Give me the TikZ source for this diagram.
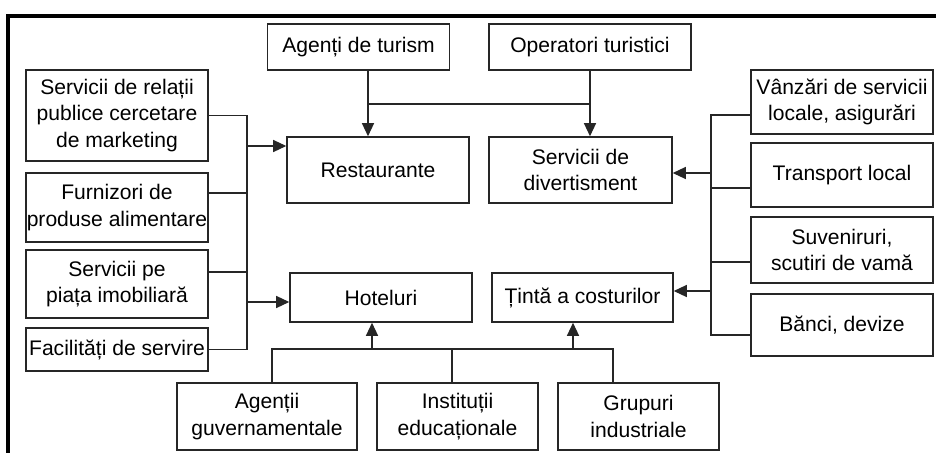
\documentclass[tikz,border=0pt]{standalone}
\usepackage{fontspec}
\setmainfont{Liberation Sans}
\usetikzlibrary{arrows.meta}

\begin{document}
\begin{tikzpicture}
[x=0.02cm,y=-0.02cm,
box/.style={shape=rectangle,draw=black!85,line width=0.9pt,inner sep=0pt,align=center,
  minimum width=3.64cm,font=\fontsize{12}{15}\selectfont},
link/.style={line width=0.7pt,draw=black!85},
flow/.style={link,-{Triangle[length=0.26cm,width=0.24cm]}},
rim/.style={line width=1.8pt}]
\useasboundingbox (0,0) rectangle (936,453);
\draw[rim] (936,16) -- (8,16) -- (8,453);
%% top row
\node (agt) [box,minimum height=0.92cm] at (358.5,47) {Agenți de turism};
\node (opt) [box,minimum height=0.92cm,minimum width=4.04cm] at (590,47) {Operatori turistici};
%% left column
\node (srp) [box,minimum height=1.82cm] at (117,115.5) {Servicii de relații\\publice cercetare\\de marketing};
\node (fur) [box,minimum height=1.38cm] at (117,207.5) {Furnizori de\\produse alimentare};
\node (imo) [box,minimum height=1.36cm] at (117,284) {Servicii pe\\piața imobiliară};
\node (fac) [box,minimum height=0.86cm] at (117,349.5) {Facilități de servire};
%% centre
\node (res) [box,minimum height=1.32cm] at (378,170) {Restaurante};
\node (div) [box,minimum height=1.32cm,minimum width=3.66cm] at (580.5,170) {Servicii de\\divertisment};
\node (hot) [box,minimum height=0.98cm] at (381,297.5) {Hoteluri};
\node (tin) [box,minimum height=0.98cm,minimum width=3.62cm] at (582.5,297.5) {Țintă a costurilor};
%% right column
\node (van) [box,minimum height=1.28cm] at (842,102) {Vânzări de servicii\\locale, asigurări};
\node (tra) [box,minimum height=1.28cm] at (842,175) {Transport local};
\node (suv) [box,minimum height=1.32cm] at (842,250) {Suveniruri,\\scutiri de vamă};
\node (ban) [box,minimum height=1.24cm] at (842,325) {Bănci, devize};
%% bottom row
\node (gov) [box,minimum height=1.34cm,minimum width=3.6cm] at (267,416.5) {Agenții\\guvernamentale};
\node (edu) [box,minimum height=1.34cm,minimum width=3.22cm] at (457.5,416.5) {Instituții\\educaționale};
\node (ind) [box,minimum height=1.34cm,minimum width=3.22cm] at (638.5,416.5) {Grupuri\\industriale};
%% buses
\coordinate (lbus) at (247,0);
\coordinate (rbus) at (711,0);
\coordinate (tbus) at (0,104);
\coordinate (bbus) at (0,349);
%% left feeders
\draw[link] (srp.east) -- (srp.east -| lbus) -- (fac.east -| lbus) -- (fac.east);
\draw[link] ([yshift=0.29cm]fur.east) -- ([yshift=0.29cm]fur.east -| lbus);
\draw[link] ([yshift=0.24cm]imo.east) -- ([yshift=0.24cm]imo.east -| lbus);
\draw[flow] ([yshift=0.48cm]res.west -| lbus) -- ([yshift=0.48cm]res.west);
\draw[flow] ([yshift=-0.09cm]hot.west -| lbus) -- ([yshift=-0.09cm]hot.west);
%% right feeders
\draw[link] ([yshift=-0.26cm]van.west) -- ([yshift=-0.26cm]van.west -| rbus)
  -- ([yshift=-0.2cm]ban.west -| rbus) -- ([yshift=-0.2cm]ban.west);
\draw[link] ([yshift=-0.26cm]tra.west) -- ([yshift=-0.26cm]tra.west -| rbus);
\draw[link] ([yshift=-0.24cm]suv.west) -- ([yshift=-0.24cm]suv.west -| rbus);
\draw[flow] ([yshift=-0.06cm]div.east -| rbus) -- ([yshift=-0.06cm]div.east);
\draw[flow] ([yshift=0.13cm]tin.east -| rbus) -- ([yshift=0.13cm]tin.east);
%% top feeders
\draw[flow] ([xshift=0.19cm]agt.south) -- ([xshift=0.19cm]agt.south |- res.north);
\draw[flow] (opt.south) -- (opt.south |- div.north);
\draw[link] ([xshift=0.19cm]agt.south |- tbus) -- (opt.south |- tbus);
%% bottom feeders
\draw[link] ([xshift=0.1cm]gov.north) -- ([xshift=0.1cm]gov.north |- bbus)
  -- ([xshift=-0.51cm]ind.north |- bbus) -- ([xshift=-0.51cm]ind.north);
\draw[link] ([xshift=-0.11cm]edu.north) -- ([xshift=-0.11cm]edu.north |- bbus);
\draw[flow] ([xshift=-0.18cm]hot.south |- bbus) -- ([xshift=-0.18cm]hot.south);
\draw[flow] ([xshift=-0.19cm]tin.south |- bbus) -- ([xshift=-0.19cm]tin.south);
\end{tikzpicture}
\end{document}
